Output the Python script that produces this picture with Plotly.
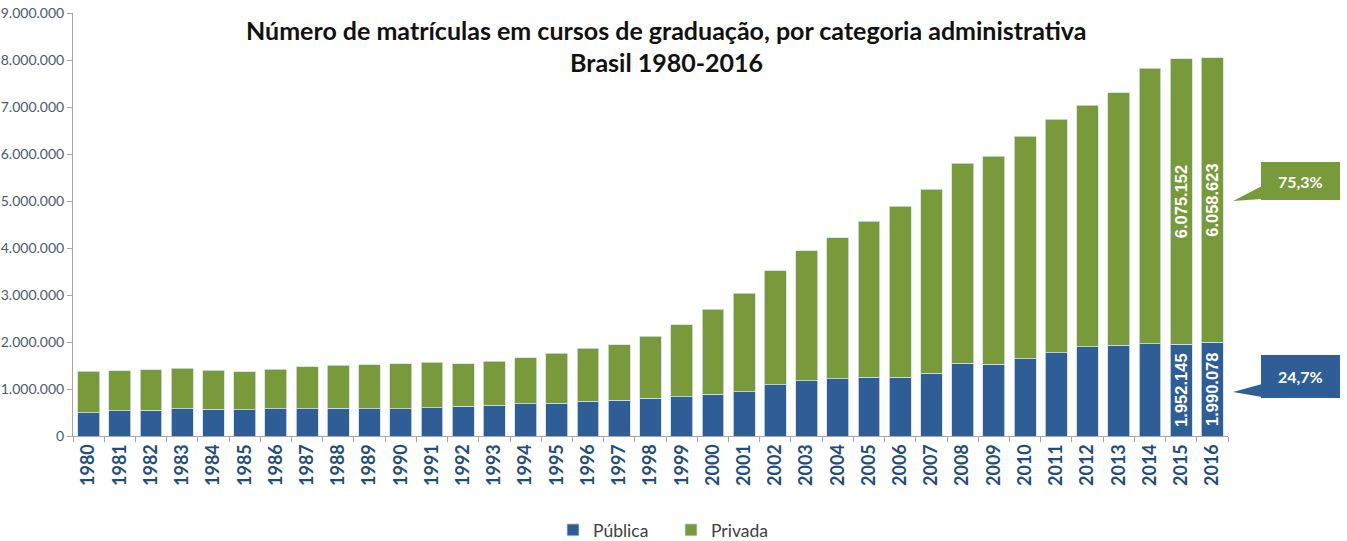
import plotly.graph_objects as go

years = [str(y) for y in range(1980, 2017)]
publica = [492232, 535810, 548388, 576689, 571879, 556680, 577632, 584965, 585351, 584414,
           578625, 605736, 629662, 653516, 690450, 700540, 735427, 759182, 804729, 832022,
           888708, 944584, 1085977, 1176174, 1214317, 1246704, 1251365, 1335177, 1552953, 1523864,
           1643298, 1773315, 1897376, 1932527, 1961002, 1952145, 1990078]
privada = [885054, 850982, 859599, 862303, 827660, 810929, 840564, 885590, 918204, 934490,
           961455, 959320, 906126, 941152, 970584, 1059163, 1133102, 1186433, 1321229, 1537923,
           1807219, 2091529, 2434650, 2760759, 3009027, 3321094, 3632487, 3914970, 4255064, 4430157,
           4736001, 4966374, 5140312, 5373450, 5867011, 6075152, 6058623]
labeled_years = ["2015", "2016"]
title_line1 = "Número de matrículas em cursos de graduação, por categoria administrativa"
title_line2 = "Brasil 1980-2016"

BLUE = "#2F5E97"
GREEN = "#789A3A"


def fmt(v):
    return f"{v:,}".replace(",", ".")


def pct(v):
    return f"{v * 100:.1f}".replace(".", ",") + "%"


pub_text = [fmt(v) if y in labeled_years else "" for y, v in zip(years, publica)]
priv_text = [fmt(v) if y in labeled_years else "" for y, v in zip(years, privada)]

LABEL_FONT = dict(family="Liberation Sans", size=16.5, color="white", weight="bold")
fig = go.Figure()
fig.add_trace(go.Bar(x=years, y=publica, name="Pública", marker=dict(color=BLUE, line=dict(color="#D5DEE8", width=0.8)),
                     text=pub_text, textposition="inside", insidetextanchor="middle", textangle=-90,
                     textfont=LABEL_FONT, constraintext="none", hoverinfo="x+y"))
fig.add_trace(go.Bar(x=years, y=privada, name="Privada", marker=dict(color=GREEN, line=dict(color="#D5DEE8", width=0.8)),
                     text=priv_text, textposition="inside", insidetextanchor="middle", textangle=-90,
                     textfont=LABEL_FONT, constraintext="none", hoverinfo="x+y"))

W, H = 1347, 541
plot_left, plot_right, plot_top, plot_bottom = 73, 1228, 13, 436
L = plot_left
R = W - plot_right
T = plot_top
B = H - plot_bottom
pw, ph = plot_right - plot_left, plot_bottom - plot_top


def px2x(px):
    return (px - plot_left) / pw


def py2y(py):
    return (plot_bottom - py) / ph


TITLE_FONT = dict(family="Lato", size=25, color="#111111", weight="bold")
annotations = [
    dict(text=title_line1, x=px2x(666), y=py2y(30), xref="paper", yref="paper", showarrow=False,
         font=TITLE_FONT, xanchor="center", yanchor="middle"),
    dict(text=title_line2, x=px2x(666), y=py2y(62), xref="paper", yref="paper", showarrow=False,
         font=TITLE_FONT, xanchor="center", yanchor="middle"),
]

shapes = []
last_pub, last_priv = publica[-1], privada[-1]
total_last = last_pub + last_priv
callouts = [
    (pct(last_priv / total_last), GREEN, 162, 200, 201),
    (pct(last_pub / total_last), BLUE, 355, 398, 392),
]
for txt, col, top, bot, tip in callouts:
    x0, x1 = px2x(1261), px2x(1340)
    shapes.append(dict(type="rect", xref="paper", yref="paper", x0=x0, x1=x1, y0=py2y(bot), y1=py2y(top),
                       fillcolor=col, line=dict(width=0), layer="above"))
    tb = bot - 1
    shapes.append(dict(type="path", xref="paper", yref="paper",
                       path=f"M {px2x(1233)} {py2y(tip)} L {px2x(1262)} {py2y(tb - 13)} L {px2x(1262)} {py2y(tb)} Z",
                       fillcolor=col, line=dict(width=0), layer="above"))
    annotations.append(dict(text=txt, x=(x0 + x1) / 2, y=py2y((top + bot) / 2), xref="paper", yref="paper",
                            xanchor="center", yanchor="middle", showarrow=False,
                            font=dict(family="Lato", size=16, color="white", weight="bold")))

fig.update_layout(
    width=W, height=H,
    margin=dict(l=L, r=R, t=T, b=B, autoexpand=False),
    barmode="stack", bargap=0.3,
    plot_bgcolor="white", paper_bgcolor="white",
    separators=",.",
    showlegend=True,
    legend=dict(orientation="h", x=px2x(671), y=py2y(530), xanchor="center", yanchor="middle",
                entrywidth=73, entrywidthmode="pixels",
                traceorder="normal", font=dict(family="Lato", size=17.5, color="#404040")),
    annotations=annotations, shapes=shapes,
    xaxis=dict(type="category", tickangle=-90, tickson="boundaries", ticks="outside", ticklen=5,
               tickcolor="#A6A6A6", showline=True, linecolor="#A6A6A6", linewidth=1,
               tickfont=dict(family="Lato", size=18, color="#1F4E79", weight="bold"), showgrid=False),
    yaxis=dict(range=[0, 9000000], dtick=1000000, tickformat=",d", ticks="outside", ticklen=5,
               tickcolor="#A6A6A6", showline=True, linecolor="#A6A6A6", linewidth=1, showgrid=False,
               zeroline=False, tickfont=dict(family="Lato", size=14, color="#4A5A70")),
)

fig.write_html("out.html", config={"displayModeBar": False},
               post_script="document.body.style.margin='0px';")
